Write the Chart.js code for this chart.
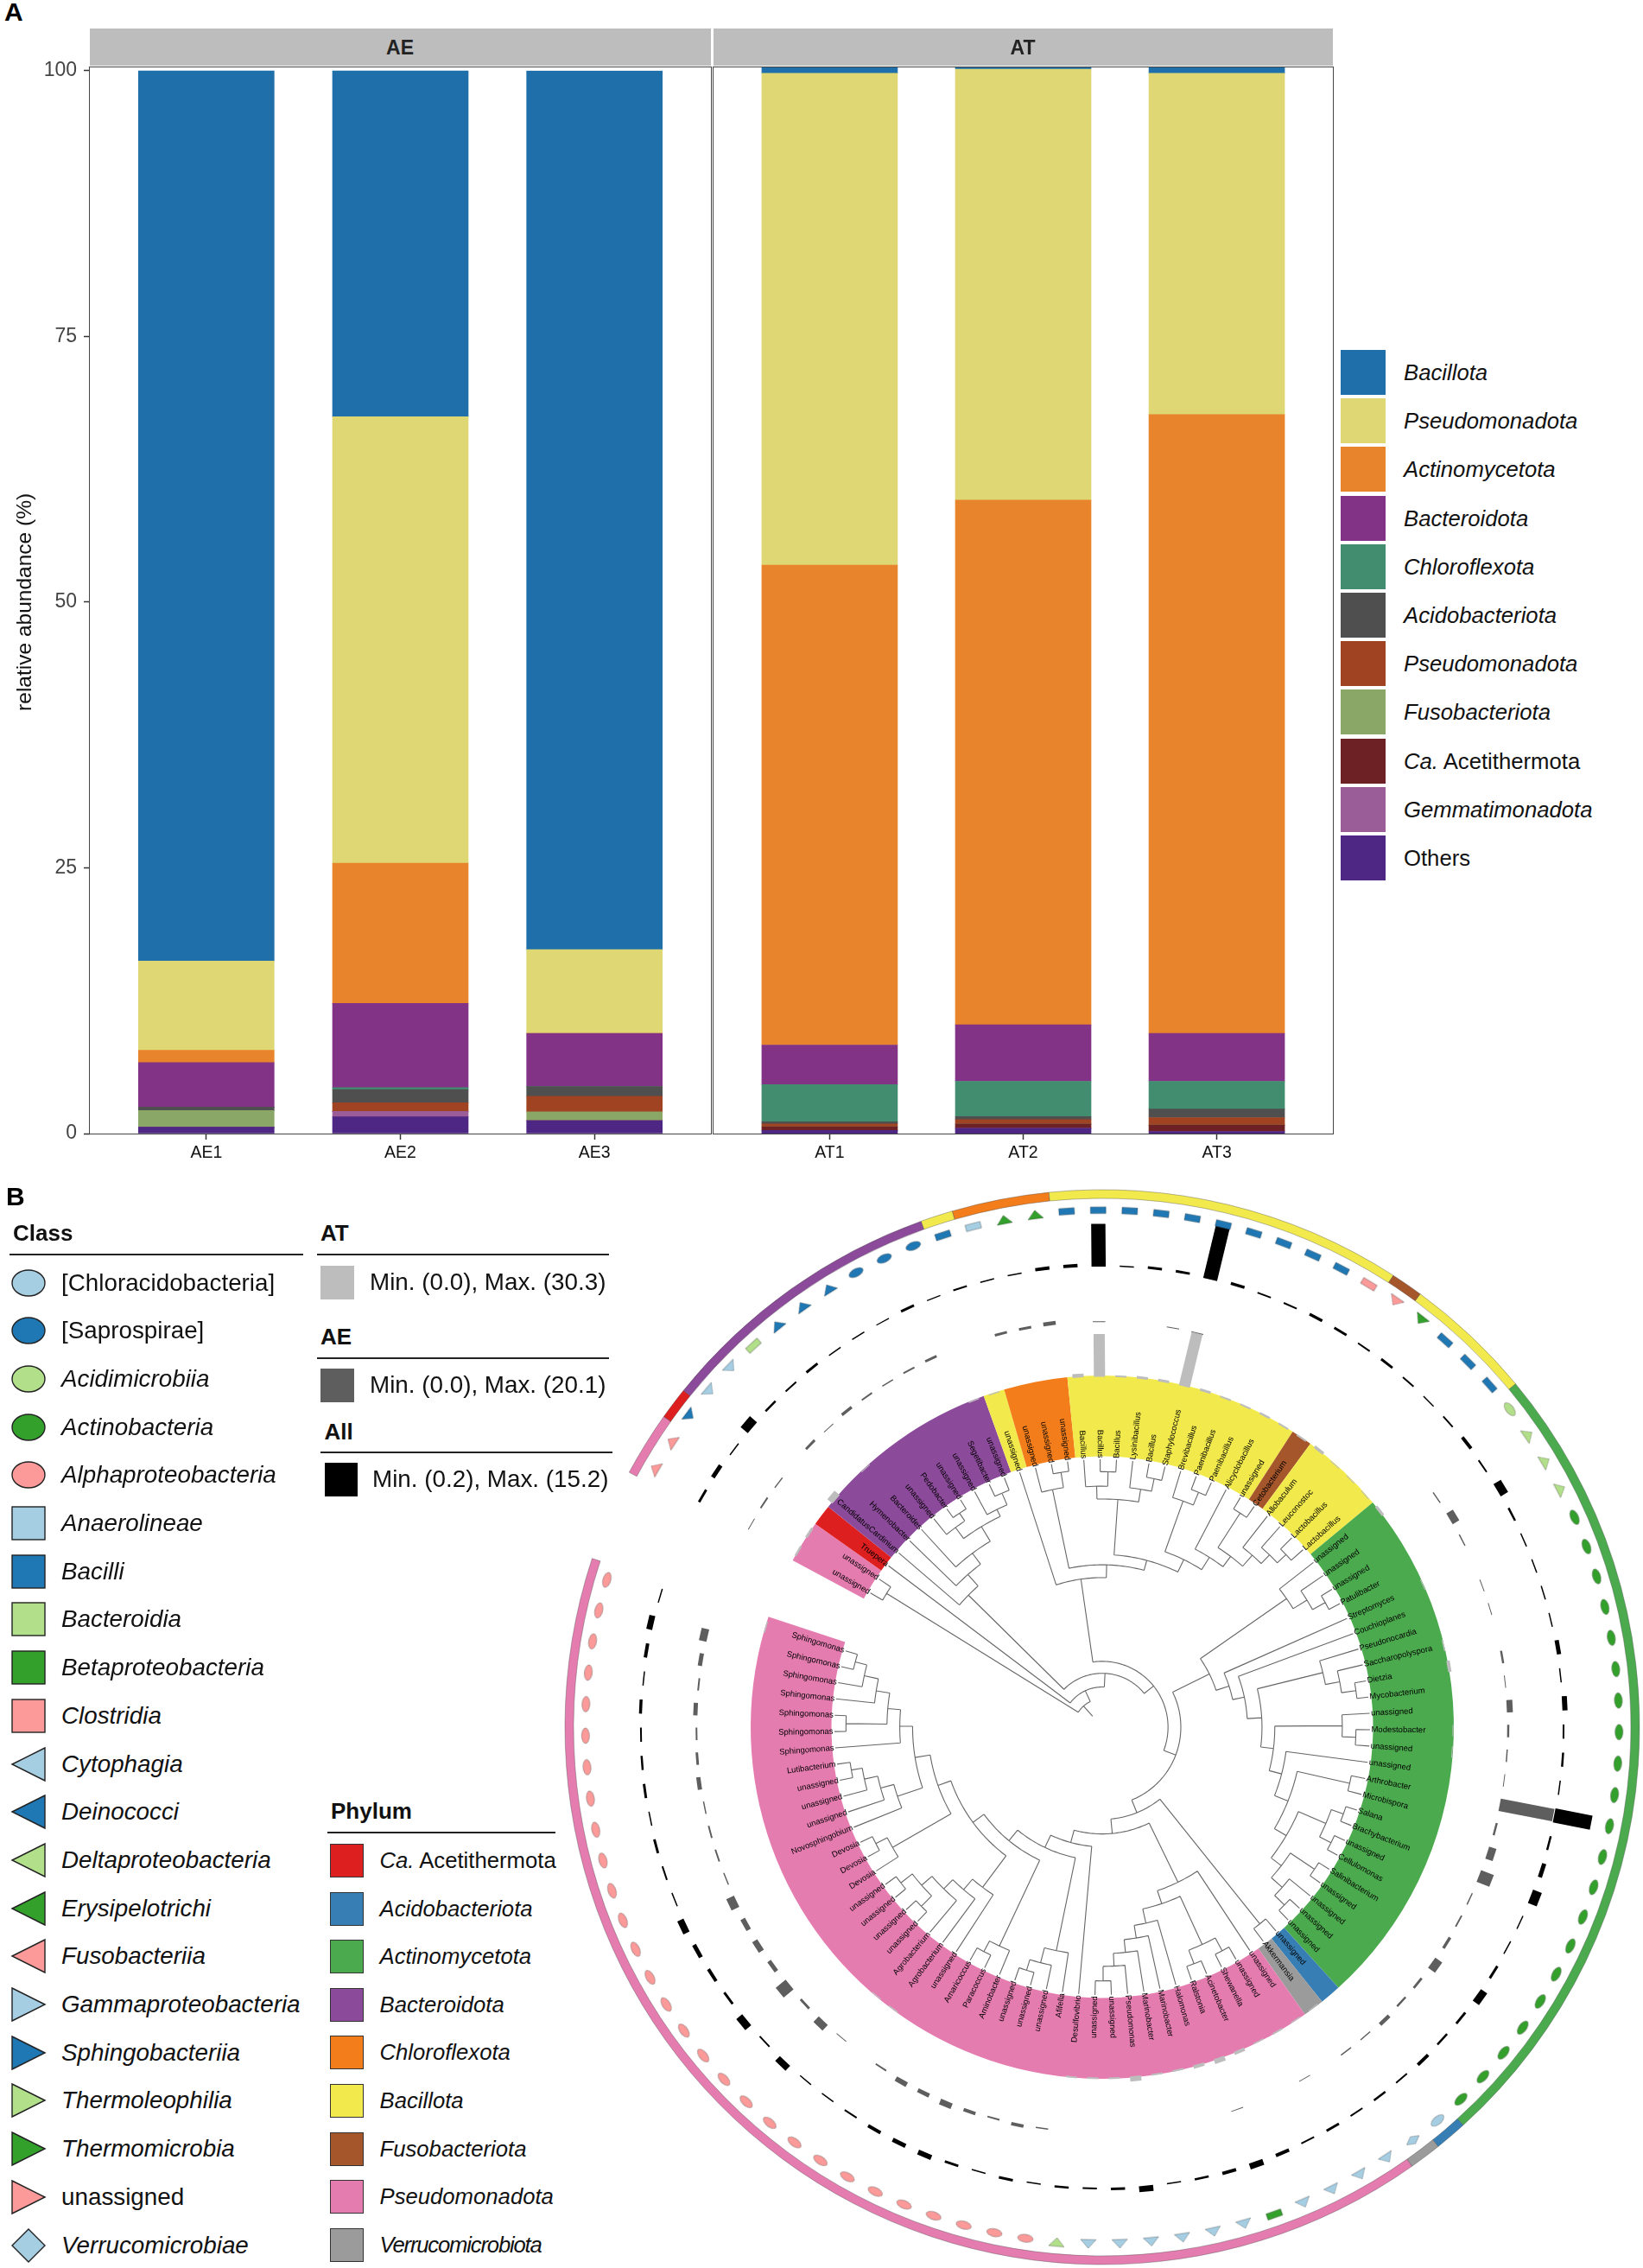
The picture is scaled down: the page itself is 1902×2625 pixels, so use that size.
<!DOCTYPE html>
<html>
<head>
<meta charset="utf-8">
<script src="https://cdn.jsdelivr.net/npm/chart.js@4/dist/chart.umd.min.js"></script>
<style>
html, body { margin: 0; padding: 0; background: #fff; }
body { position: relative; width: 1902px; height: 2625px; overflow: hidden; font-family: "Liberation Sans", Arial, sans-serif; color: #111; }
canvas { position: absolute; }
.t { position: absolute; white-space: nowrap; transform: translateY(-50%); }
.box { position: absolute; }
svg { position: absolute; }
</style>
</head>
<body>
<canvas id="chart-ae" width="830" height="1310" style="left:0;top:60px"></canvas>
<canvas id="chart-at" width="717" height="1310" style="left:826px;top:60px"></canvas>
<canvas id="chart-rings" width="1260" height="1260" style="left:646px;top:1369px"></canvas>
<canvas id="chart-tree" width="1260" height="1260" style="left:646px;top:1369px"></canvas>
<script>
// panel A
const aeSamples = ["AE1", "AE2", "AE3"];
const atSamples = ["AT1", "AT2", "AT3"];
const yTicks = [0, 25, 50, 75, 100];
const taxa = ["Bacillota", "Pseudomonadota", "Actinomycetota", "Bacteroidota", "Chloroflexota", "Acidobacteriota",
  "Pseudomonadota", "Fusobacteriota", "Ca. Acetithermota", "Gemmatimonadota", "Others"];
const taxaColors = ["#1f70aa", "#dfd674", "#e8842b", "#823385", "#428c70", "#4f4f4f",
  "#a04322", "#8ba768", "#6e2125", "#9b5d98", "#4e2683"];
// AE1 AE2 AE3 AT1 AT2 AT3
const bacillota = [83.8, 32.6, 82.7, 0.6, 0.2, 0.6];
const pseudomonadota = [8.4, 42, 7.87, 46.1, 40.4, 32];
const actinomycetota = [1.16, 13.2, 0, 45, 49.2, 58];
const bacteroidota = [4.19, 7.92, 5, 3.7, 5.3, 4.5];
const chloroflexota = [0, 0.19, 0, 3.5, 3.3, 2.6];
const acidobacteriota = [0.33, 1.24, 0.92, 0.2, 0.3, 0.8];
const pseudomonadota2 = [0, 0.81, 1.46, 0.25, 0.4, 0.7];
const fusobacteriota = [1.56, 0, 0.83, 0, 0, 0];
const acetithermota = [0, 0, 0, 0.35, 0.4, 0.6];
const gemmatimonadota = [0, 0.51, 0, 0, 0, 0];
const others = [0.6, 1.57, 1.22, 0.3, 0.5, 0.2];
const taxaValues = [bacillota, pseudomonadota, actinomycetota, bacteroidota, chloroflexota, acidobacteriota,
  pseudomonadota2, fusobacteriota, acetithermota, gemmatimonadota, others];

// panel B, 100 leaves clockwise from the gap
const leafNames = ["unassigned", "unassigned", "Truepera", "CandidatusCardinium", "Hymenobacter", "Bacteroides", "unassigned", "Pedobacter", "unassigned", "unassigned",
  "Segetibacter", "unassigned", "unassigned", "unassigned", "unassigned", "unassigned", "Bacillus", "Bacillus", "Bacillus", "Lysinibacillus",
  "Bacillus", "Staphylococcus", "Brevibacillus", "Paenibacillus", "Paenibacillus", "Alicyclobacillus", "unassigned", "Cetobacterium", "Allobaculum", "Leuconostoc",
  "Lactobacillus", "Lactobacillus", "unassigned", "unassigned", "unassigned", "Patulibacter", "Streptomyces", "Couchioplanes", "Pseudonocardia", "Saccharopolyspora",
  "Dietzia", "Mycobacterium", "unassigned", "Modestobacter", "unassigned", "unassigned", "Arthrobacter", "Microbispora", "Salana", "Brachybacterium",
  "unassigned", "Cellulomonas", "Salinibacterium", "unassigned", "unassigned", "unassigned", "unassigned", "unassigned", "Akkermansia", "unassigned",
  "unassigned", "Shewanella", "Acinetobacter", "Ralstonia", "Halomonas", "Marinobacter", "Marinobacter", "Pseudomonas", "unassigned", "unassigned",
  "Desulfovibrio", "Afifella", "unassigned", "unassigned", "unassigned", "Aminobacter", "Paracoccus", "Amaricoccus", "unassigned", "Agrobacterium",
  "Agrobacterium", "unassigned", "unassigned", "unassigned", "unassigned", "Devosia", "Devosia", "Devosia", "Novosphingobium", "unassigned",
  "unassigned", "unassigned", "Lutibacterium", "Sphingomonas", "Sphingomonas", "Sphingomonas", "Sphingomonas", "Sphingomonas", "Sphingomonas", "Sphingomonas"];

const atValues = [1.18, 1.42, 0, 3.79, 0, 0.47, 0, 0, 0, 0,
  0, 0.71, 0.71, 0, 0, 0, 2.13, 23.7, 0.95, 1.42,
  1.42, 30.3, 1.42, 0.95, 0.95, 1.18, 0.95, 0.95, 1.66, 0.47,
  0.47, 0.47, 1.66, 0, 0, 0, 0.47, 0, 0, 0.71,
  1.9, 0, 0, 0.47, 0.47, 0, 0, 0, 0, 0,
  0, 0, 0, 0, 0, 0, 0, 0, 0.47, 0.71,
  0.95, 0.71, 1.9, 2.84, 1.9, 0.95, 0.95, 2.84, 0.95, 0.95,
  0.95, 0, 0, 0, 0, 0, 0, 0, 0, 0.71,
  0.47, 0, 0, 0, 0, 0, 0, 0, 0, 0,
  0, 0, 0, 0, 0, 0, 0, 0, 0, 0.71];
const aeValues = [0.31, 0.63, 0.47, 0, 0.94, 0.31, 1.1, 0.63, 0.47, 0.63,
  0.94, 0, 0, 0.94, 0.94, 1.42, 0, 0.31, 0, 0,
  0.31, 0.31, 0, 0, 0, 0, 0, 0, 0, 0,
  0, 0, 0, 0.47, 2.83, 0.47, 0, 0.31, 0.31, 0,
  0.79, 0.31, 2.2, 0.79, 0.47, 0.31, 20.1, 0.79, 2.83, 5.03,
  0.47, 0.63, 1.1, 3.14, 0.94, 0.79, 1.42, 0.47, 0.47, 0,
  0.31, 0, 0, 0.31, 0, 0, 0, 0, 0, 0,
  0, 0.47, 1.26, 0.63, 1.26, 2.2, 1.57, 1.89, 0.63, 0,
  0.31, 2.83, 0.94, 4.72, 1.57, 2.2, 1.89, 3.14, 0.47, 0.63,
  0.63, 0.47, 1.57, 0.94, 0.63, 1.57, 0.63, 1.57, 2.83, 0];
const allValues = [0.71, 1.19, 0.36, 2.62, 0.6, 0.48, 0.71, 0.36, 0.36, 0.29,
  0.71, 0.29, 0.48, 0.36, 0.36, 0.95, 0.95, 11.9, 0.36, 0.71,
  0.71, 15.2, 0.83, 0.48, 0.48, 0.83, 0.71, 0.48, 0.71, 0.48,
  0.36, 0.48, 0.95, 0.48, 2.38, 0.6, 0.36, 0.36, 0.36, 0.36,
  1.19, 0.36, 1.43, 0.48, 0.6, 0.36, 10.5, 0.6, 1.19, 2.62,
  0.36, 0.36, 0.71, 2.14, 0.71, 0.6, 0.95, 0.48, 0.6, 0.48,
  0.71, 0.48, 0.95, 1.67, 0.95, 0.6, 0.36, 1.67, 0.71, 0.48,
  0.6, 0.36, 0.71, 0.36, 0.71, 1.43, 1.19, 0.95, 0.48, 0.36,
  0.36, 1.9, 0.48, 2.14, 0.71, 0.95, 1.19, 1.9, 0.36, 0.48,
  0.71, 0.36, 0.71, 0.6, 0.48, 0.83, 0.36, 0.95, 1.67, 0.36];

const phylumNames = ["Ca. Acetithermota", "Acidobacteriota", "Actinomycetota", "Bacteroidota", "Chloroflexota", "Bacillota", "Fusobacteriota", "Pseudomonadota", "Verrucomicrobiota"];
const phylumColors = ["#dd1f20", "#377eb4", "#4caa4e", "#8c4a9a", "#f27d1a", "#f2ea4c", "#a5562a", "#e57cb0", "#9b9b9b"];
const phylumRuns = ["Pseudomonadota", "Ca. Acetithermota", "Bacteroidota", "Bacillota", "Chloroflexota", "Bacillota", "Fusobacteriota", "Bacillota", "Actinomycetota", "Acidobacteriota", "Verrucomicrobiota", "Pseudomonadota"];
const phylumCounts = [2, 1, 9, 1, 3, 11, 1, 4, 25, 1, 1, 41];

const classNames = ["[Chloracidobacteria]", "[Saprospirae]", "Acidimicrobiia", "Actinobacteria", "Alphaproteobacteria", "Anaerolineae", "Bacilli", "Bacteroidia", "Betaproteobacteria", "Clostridia",
  "Cytophagia", "Deinococci", "Deltaproteobacteria", "Erysipelotrichi", "Fusobacteriia", "Gammaproteobacteria", "Sphingobacteriia", "Thermoleophilia", "Thermomicrobia", "unassigned", "Verrucomicrobiae"];
const classShapes = ["ellipse", "ellipse", "ellipse", "ellipse", "ellipse", "rect", "rect", "rect", "rect", "rect",
  "left", "left", "left", "left", "left", "right", "right", "right", "right", "right", "diamond"];
const classColors = ["#a6cee3", "#1f78b4", "#b2df8a", "#33a02c", "#fb9a99", "#a6cee3", "#1f78b4", "#b2df8a", "#33a02c", "#fb9a99",
  "#a6cee3", "#1f78b4", "#b2df8a", "#33a02c", "#fb9a99", "#a6cee3", "#1f78b4", "#b2df8a", "#33a02c", "#fb9a99", "#a6cee3"];
const classRuns = [["unassigned", 2], ["Deinococci", 1], ["Cytophagia", 2], ["Bacteroidia", 1], ["Sphingobacteriia", 3], ["[Saprospirae]", 3], ["Bacilli", 1], ["Anaerolineae", 1], ["Thermomicrobia", 2],
  ["Bacilli", 10], ["Clostridia", 1], ["Fusobacteriia", 1], ["Erysipelotrichi", 1], ["Bacilli", 3], ["Acidimicrobiia", 1], ["Thermoleophilia", 3], ["Actinobacteria", 21], ["[Chloracidobacteria]", 1],
  ["Verrucomicrobiae", 1], ["Gammaproteobacteria", 4], ["Betaproteobacteria", 1], ["Gammaproteobacteria", 6], ["Deltaproteobacteria", 1], ["Alphaproteobacteria", 29]];

// tree clades: [node radius, child, child], a plain number is a leaf index
const cladeBacteroidota = [220, 3, [238, 4, [254, 5, [274, [290, 6, [301, 7, 8]], [283, 9, [298, 10, 11]]]]]];
const cladeChloroflexi = [284, 13, [302, 14, 15]];
const cladeLacto = [267, 28, [281, 29, [295, 30, 31]]];
const cladeBacilli2 = [218, [281, 22, [297, 23, 24]], [235, 25, [250, [298, 26, 27], cladeLacto]]];
const cladeBacilli = [202, [267, [282, 16, [299, 17, 18]], [282, 19, [297, 20, 21]]], cladeBacilli2];
const cladeMicro = [250, [285, [300, 48, 49], [300, 50, 51]], [265, [299, 52, 53], [282, 54, [298, 55, 56]]]];
const cladeMicro2 = [202, [281, 42, [297, 43, 44]], [217, 45, [234, [297, 46, 47], cladeMicro]]];
const cladeActino = [140, [263, 32, [282, 33, [299, 34, 35]]],
  [156, 36, [170, 37, [187, [266, 38, [283, 39, [300, 40, 41]]], cladeMicro2]]]];
const cladeHalo = [235, 64, [250, 65, [265, 66, [280, 67, [297, 68, 69]]]]];
const cladeGamma = [202, 59, [218, [280, [297, 60, 61], [297, 62, 63]], cladeHalo]];
const cladeRhizo = [234, 78, [250, 79, [265, 80, [281, [298, 81, 82], [298, 83, 84]]]]];
const cladeSphingo = [237, 93, [252, [300, 94, 95], [268, 96, [285, 97, [299, 98, 99]]]]];
const cladeSphingo2 = [222, [253, 88, [269, 89, [285, 90, [298, 91, 92]]]], cladeSphingo];
const cladeAlpha = [156, [267, 71, [285, 72, [298, 73, 74]]],
  [172, [283, 75, [297, 76, 77]], [188, cladeRhizo, [204, [283, 85, [298, 86, 87]], cladeSphingo2]]]];
const cladeFirmicutes = [175, 12, [190, cladeChloroflexi, cladeBacilli]];
const cladeProteo = [108, [295, 57, 58], [125, cladeGamma, [140, 70, cladeAlpha]]];
const tree = [33, [297, 0, 1], [47, 2, [63, cladeBacteroidota, [77, cladeFirmicutes, [92, cladeActino, cladeProteo]]]]];

const gapEnd = 298.3, leafStep = 3.5;
const leafR = 313.5;
const atBase = 410, aeBase = 474, allBase = 539, ringHeight = 64;
const markerR = 605;

const leafClass = classRuns.flatMap(([name, n]) => Array(n).fill(name));
const leafAngle = (i) => gapEnd + (i + 0.5) * leafStep;
const polar = (r, deg) => ({ x: r * Math.sin(deg * Math.PI / 180), y: r * Math.cos(deg * Math.PI / 180) });
const GAP = { x: NaN, y: NaN };

function panelChart(id, samples, offset, showY) {
  const datasets = taxa.map((name, k) => ({
    label: name,
    data: samples.map((s, i) => ({ x: i + 1, y: taxaValues[k][i + offset] })),
    backgroundColor: taxaColors[k],
    borderWidth: 0,
    barThickness: 157,
  })).reverse();
  return new Chart(document.getElementById(id), {
    type: "bar",
    data: { datasets },
    options: {
      responsive: false, animation: false, devicePixelRatio: 1,
      layout: { padding: { top: 17.5, right: showY ? 7 : 0 } },
      plugins: { legend: { display: false }, tooltip: { enabled: false } },
      scales: {
        x: {
          type: "linear", min: 0.4, max: 3.6, stacked: true, offset: false,
          afterBuildTicks: (s) => { s.ticks = samples.map((_, i) => ({ value: i + 1 })); },
          afterFit: (s) => { s.height = 58; },
          grid: { display: true, offset: false, drawOnChartArea: false, drawTicks: true, tickLength: 7, color: "#333", tickWidth: 1.5 },
          border: { display: false },
          ticks: { callback: (v) => samples[v - 1], maxRotation: 0, autoSkip: false, padding: 4, color: "#111", font: { family: "Liberation Sans", size: 19.5 } },
        },
        y: {
          display: showY, min: 0, max: 100, stacked: true,
          afterBuildTicks: (s) => { s.ticks = yTicks.map((v) => ({ value: v })); },
          afterFit: (s) => { s.width = showY ? 104 : 0; },
          grid: { display: true, drawOnChartArea: false, drawTicks: true, tickLength: 7, color: "#333", tickWidth: 1.5 },
          border: { display: false },
          ticks: { padding: 8, color: "#444", font: { family: "Liberation Sans", size: 23 } },
          title: { display: true, text: "relative abundance (%)", color: "#111", font: { family: "Liberation Sans", size: 24.5 }, padding: { top: 15, bottom: 0 } },
        },
      },
    },
  });
}
panelChart("chart-ae", aeSamples, 0, true);
panelChart("chart-at", atSamples, 3, false);

// phylum rings
const runColors = phylumRuns.map((p) => phylumColors[phylumNames.indexOf(p)]);
new Chart(document.getElementById("chart-rings"), {
  type: "doughnut",
  data: {
    labels: phylumRuns,
    datasets: [
      { data: phylumCounts, backgroundColor: runColors, borderColor: "rgba(70,70,70,0.55)", borderWidth: 0.7, weight: 10 },
      { data: phylumCounts, backgroundColor: "rgba(0,0,0,0)", borderWidth: 0, weight: 205 },
      { data: phylumCounts, backgroundColor: runColors, borderWidth: 0, weight: 93.5 },
    ],
  },
  options: {
    responsive: false, animation: false, devicePixelRatio: 1,
    rotation: gapEnd, circumference: 350, radius: 622, cutout: (leafR / 622 * 100) + "%",
    plugins: { legend: { display: false }, tooltip: { enabled: false } },
  },
});

// tree lines
const treePoints = [];
function walkTree(node) {
  if (typeof node === "number") return leafAngle(node);
  const r = node[0];
  const kids = node.slice(1);
  const angles = kids.map(walkTree);
  const a0 = angles[0], a1 = angles[angles.length - 1];
  for (let a = a0; a < a1; a += 1) treePoints.push(polar(r, a));
  treePoints.push(polar(r, a1), GAP);
  kids.forEach((k, i) => {
    treePoints.push(polar(r, angles[i]), polar(typeof k === "number" ? leafR : k[0], angles[i]), GAP);
  });
  return (a0 + a1) / 2;
}
const rootAngle = walkTree(tree);
treePoints.push(polar(17, rootAngle), polar(tree[0], rootAngle), GAP);

function ringBars(values, base, vmax) {
  const pts = [];
  values.forEach((v, i) => {
    if (v > 0) pts.push(polar(base, leafAngle(i)), polar(base + v / vmax * ringHeight, leafAngle(i)), GAP);
  });
  return pts;
}

function makeSprite(shape, color) {
  const c = document.createElement("canvas");
  c.width = 16; c.height = 24;
  const g = c.getContext("2d");
  g.translate(8, 12);
  const rad = shape === "rect" ? 3.8 : shape === "ellipse" ? 4.5 : 5;
  const tan = 9;
  g.beginPath();
  if (shape === "ellipse") g.ellipse(0, 0, rad, tan, 0, 0, Math.PI * 2);
  else if (shape === "rect") g.rect(-rad, -tan, rad * 2, tan * 2);
  else if (shape === "right") { g.moveTo(rad, 0); g.lineTo(-rad, -tan); g.lineTo(-rad, tan); g.closePath(); }
  else if (shape === "left") { g.moveTo(-rad, 0); g.lineTo(rad, -tan); g.lineTo(rad, tan); g.closePath(); }
  else { g.moveTo(rad, 0); g.lineTo(0, -tan); g.lineTo(-rad, 0); g.lineTo(0, tan); g.closePath(); }
  g.fillStyle = color;
  g.fill();
  g.lineWidth = 0.6;
  g.strokeStyle = "rgba(50,50,50,0.6)";
  g.stroke();
  return c;
}
const sprites = {};
classNames.forEach((n, i) => { sprites[n] = makeSprite(classShapes[i], classColors[i]); });

const leafLabels = {
  id: "leafLabels",
  afterDatasetsDraw(chart) {
    const { ctx, scales } = chart;
    ctx.save();
    ctx.font = "9.5px 'Liberation Sans'";
    ctx.fillStyle = "#000";
    ctx.textBaseline = "middle";
    leafNames.forEach((name, i) => {
      const a = leafAngle(i);
      const norm = a % 360;
      const p = polar(leafR + 1.5, a);
      ctx.save();
      ctx.translate(scales.x.getPixelForValue(p.x), scales.y.getPixelForValue(p.y));
      if (norm < 180) {
        ctx.rotate((a - 90) * Math.PI / 180);
        ctx.textAlign = "left";
      } else {
        ctx.rotate((a + 90) * Math.PI / 180);
        ctx.textAlign = "right";
      }
      ctx.fillText(name, 0, 0);
      ctx.restore();
    });
    ctx.restore();
  },
};

const barLine = { showLine: true, pointRadius: 0, fill: false, borderDash: [4000, 0], borderCapStyle: "butt" };
new Chart(document.getElementById("chart-tree"), {
  type: "scatter",
  data: {
    datasets: [
      { label: "Class", data: leafNames.map((_, i) => polar(markerR, leafAngle(i))), showLine: false, pointRadius: 6,
        pointStyle: (c) => sprites[leafClass[c.dataIndex]],
        pointRotation: (c) => leafAngle(c.dataIndex) - 90 },
      { label: "All", data: ringBars(allValues, allBase, 15.2), borderColor: "#000", borderWidth: 16.5, ...barLine },
      { label: "AE", data: ringBars(aeValues, aeBase, 20.1), borderColor: "#5e5e5e", borderWidth: 14.5, ...barLine },
      { label: "AT", data: ringBars(atValues, atBase, 30.3), borderColor: "#bdbdbd", borderWidth: 13, ...barLine },
      { label: "tree", data: treePoints, borderColor: "#666", borderWidth: 1.1, ...barLine },
    ],
  },
  options: {
    responsive: false, animation: false, devicePixelRatio: 1,
    layout: { padding: 0 },
    plugins: { legend: { display: false }, tooltip: { enabled: false } },
    scales: {
      x: { type: "linear", min: -630, max: 630, display: false },
      y: { type: "linear", min: -630, max: 630, display: false },
    },
  },
  plugins: [leafLabels],
});

// page text and legends
function addText(x, y, html, css) {
  const d = document.createElement("div");
  d.className = "t";
  d.style.cssText = `left:${x}px;top:${y}px;${css || ""}`;
  d.innerHTML = html;
  document.body.appendChild(d);
}
function addBox(x, y, w, h, css) {
  const d = document.createElement("div");
  d.className = "box";
  d.style.cssText = `left:${x}px;top:${y}px;width:${w}px;height:${h}px;${css}`;
  document.body.appendChild(d);
}
const title = "font-weight:bold;font-size:26px;";
const rowText = "font-size:27.8px;";
const sideText = "font-size:25.7px;";

addText(5, 14, "A", "font-weight:bold;font-size:30px;color:#000");
addText(7, 1385, "B", "font-weight:bold;font-size:30px;color:#000");

// facet strips and frames
addBox(104, 33, 719, 43, "background:#bdbdbd");
addBox(826, 33, 717, 43, "background:#bdbdbd");
addText(463, 55, "AE", "font-weight:bold;font-size:23px;transform:translate(-50%,-50%);color:#222");
addText(1184, 55, "AT", "font-weight:bold;font-size:23px;transform:translate(-50%,-50%);color:#222");
addBox(103, 77, 719, 1234, "border:1.5px solid #444");
addBox(825, 77, 717, 1234, "border:1.5px solid #444");

// legend of panel A
taxa.forEach((name, i) => {
  const y = 405 + i * 56.2;
  addBox(1552, y, 52, 52, `background:${taxaColors[i]}`);
  let label = `<i>${name}</i>`;
  if (name === "Others") label = name;
  if (name.startsWith("Ca.")) label = "<i>Ca.</i> Acetithermota";
  addText(1625, y + 26, label, sideText);
});

// class legend
function classMarker(shape, color, cx, cy) {
  const ns = "http://www.w3.org/2000/svg";
  const s = document.createElementNS(ns, "svg");
  s.setAttribute("width", 42); s.setAttribute("height", 42);
  s.style.left = (cx - 21) + "px"; s.style.top = (cy - 21) + "px";
  const attrs = `fill="${color}" stroke="#222" stroke-width="1.4"`;
  if (shape === "ellipse") s.innerHTML = `<ellipse cx="21" cy="21" rx="19" ry="15" ${attrs}/>`;
  if (shape === "rect") s.innerHTML = `<rect x="2" y="2" width="38" height="38" ${attrs}/>`;
  if (shape === "left") s.innerHTML = `<polygon points="2,21 40,2 40,40" ${attrs}/>`;
  if (shape === "right") s.innerHTML = `<polygon points="40,21 2,2 2,40" ${attrs}/>`;
  if (shape === "diamond") s.innerHTML = `<polygon points="2,21 21,2 40,21 21,40" ${attrs}/>`;
  document.body.appendChild(s);
}
addText(15, 1427, "Class", title);
addBox(11, 1451, 340, 1.5, "background:#222");
classNames.forEach((name, i) => {
  const y = 1484.5 + i * 55.7;
  classMarker(classShapes[i], classColors[i], 33, y);
  const plain = name.startsWith("[") || name === "unassigned";
  addText(71, y, plain ? name : `<i>${name}</i>`, rowText);
});

// bar ring legends
const ringLegends = [
  { name: "AT", text: "Min. (0.0), Max. (30.3)", color: "#bdbdbd", x: 371, y: 1427, lx: 367, ly: 1451, sw: 1465, tx: 428 },
  { name: "AE", text: "Min. (0.0), Max. (20.1)", color: "#5e5e5e", x: 371, y: 1547, lx: 367, ly: 1571, sw: 1584, tx: 428 },
  { name: "All", text: "Min. (0.2), Max. (15.2)", color: "#000", x: 375.6, y: 1657, lx: 371, ly: 1680, sw: 1693, tx: 431 },
];
ringLegends.forEach((r) => {
  addText(r.x, r.y, r.name, title);
  addBox(r.lx, r.ly, 338, 1.5, "background:#222");
  addBox(r.x, r.sw, 38.5, 38.5, `background:${r.color}`);
  addText(r.tx, r.sw + 19, r.text, rowText);
});

// phylum legend
addText(383, 2096, "Phylum", title);
addBox(379, 2120, 264, 1.5, "background:#222");
phylumNames.forEach((name, i) => {
  const y = 2153 + i * 55.6;
  addBox(382, y - 19, 37, 37, `background:${phylumColors[i]};border:1px solid #333;box-sizing:content-box`);
  let label = `<i>${name}</i>`;
  if (name.startsWith("Ca.")) label = "<i>Ca.</i> Acetithermota";
  addText(439.5, y, label, sideText + (name === "Verrucomicrobiota" ? "letter-spacing:-1.2px;" : ""));
});
</script>
</body>
</html>
